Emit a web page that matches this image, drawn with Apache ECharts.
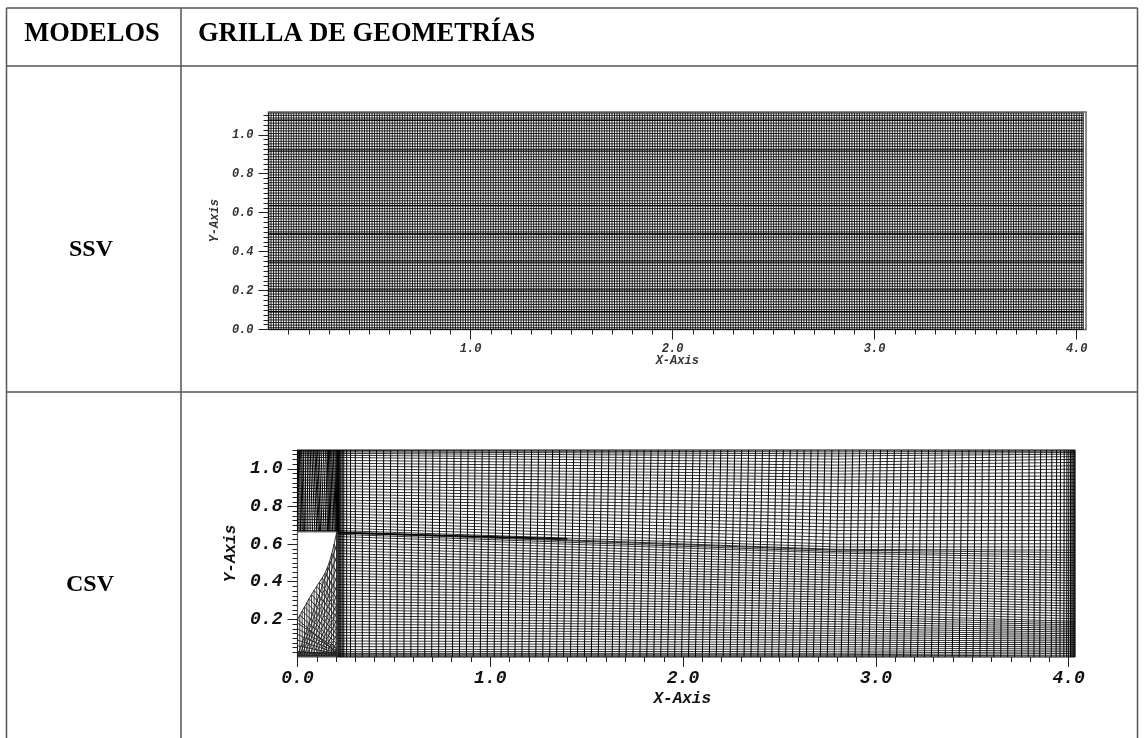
<!DOCTYPE html>
<html><head><meta charset="utf-8">
<style>html,body{margin:0;padding:0;background:#fff}#c{width:1144px;height:738px}</style>
<script src="https://cdn.jsdelivr.net/npm/echarts@6/dist/echarts.min.js"></script>
</head><body><div id="c"></div>
<script>
// Table text
const headers = ['MODELOS', 'GRILLA DE GEOMETRÍAS'];
const models = ['SSV', 'CSV'];
// Tick values
const ssvXMajor = [1, 2, 3, 4];
const ssvXMinor = [.1,.2,.3,.4,.5,.6,.7,.8,.9,1.1,1.2,1.3,1.4,1.5,1.6,1.7,1.8,1.9,2.1,2.2,2.3,2.4,2.5,2.6,2.7,2.8,2.9,3.1,3.2,3.3,3.4,3.5,3.6,3.7,3.8,3.9];
const ssvYMajor = [0, .2, .4, .6, .8, 1];
const yMinorTicks = [.025,.05,.075,.1,.125,.15,.175,.225,.25,.275,.3,.325,.35,.375,.425,.45,.475,.5,.525,.55,.575,.625,.65,.675,.7,.725,.75,.775,.825,.85,.875,.9,.925,.95,.975,1.025,1.05,1.075,1.1];
const csvXMajor = [0, 1, 2, 3, 4];
const csvXMinor = ssvXMinor;
const csvYMajor = [.2, .4, .6, .8, 1];
// SSV mesh stations
const ssvX = [0,.0125,.025,.0375,.05,.0625,.075,.0875,
.1,.1125,.125,.1375,.15,.1625,.175,.1875,.2,.2125,.225,.2375,.25,.2625,.275,.2875,
.3,.3125,.325,.3375,.35,.3625,.375,.3875,.4,.4125,.425,.4375,.45,.4625,.475,.4875,
.5,.5125,.525,.5375,.55,.5625,.575,.5875,.6,.6125,.625,.6375,.65,.6625,.675,.6875,
.7,.7125,.725,.7375,.75,.7625,.775,.7875,.8,.8125,.825,.8375,.85,.8625,.875,.8875,
.9,.9125,.925,.9375,.95,.9625,.975,.9875,1,1.0125,1.025,1.0375,1.05,1.0625,1.075,1.0875,
1.1,1.1125,1.125,1.1375,1.15,1.1625,1.175,1.1875,1.2,1.2125,1.225,1.2375,1.25,1.2625,1.275,1.2875,
1.3,1.3125,1.325,1.3375,1.35,1.3625,1.375,1.3875,1.4,1.4125,1.425,1.4375,1.45,1.4625,1.475,1.4875,
1.5,1.5125,1.525,1.5375,1.55,1.5625,1.575,1.5875,1.6,1.6125,1.625,1.6375,1.65,1.6625,1.675,1.6875,
1.7,1.7125,1.725,1.7375,1.75,1.7625,1.775,1.7875,1.8,1.8125,1.825,1.8375,1.85,1.8625,1.875,1.8875,
1.9,1.9125,1.925,1.9375,1.95,1.9625,1.975,1.9875,2,2.0125,2.025,2.0375,2.05,2.0625,2.075,2.0875,
2.1,2.1125,2.125,2.1375,2.15,2.1625,2.175,2.1875,2.2,2.2125,2.225,2.2375,2.25,2.2625,2.275,2.2875,
2.3,2.3125,2.325,2.3375,2.35,2.3625,2.375,2.3875,2.4,2.4125,2.425,2.4375,2.45,2.4625,2.475,2.4875,
2.5,2.5125,2.525,2.5375,2.55,2.5625,2.575,2.5875,2.6,2.6125,2.625,2.6375,2.65,2.6625,2.675,2.6875,
2.7,2.7125,2.725,2.7375,2.75,2.7625,2.775,2.7875,2.8,2.8125,2.825,2.8375,2.85,2.8625,2.875,2.8875,
2.9,2.9125,2.925,2.9375,2.95,2.9625,2.975,2.9875,3,3.0125,3.025,3.0375,3.05,3.0625,3.075,3.0875,
3.1,3.1125,3.125,3.1375,3.15,3.1625,3.175,3.1875,3.2,3.2125,3.225,3.2375,3.25,3.2625,3.275,3.2875,
3.3,3.3125,3.325,3.3375,3.35,3.3625,3.375,3.3875,3.4,3.4125,3.425,3.4375,3.45,3.4625,3.475,3.4875,
3.5,3.5125,3.525,3.5375,3.55,3.5625,3.575,3.5875,3.6,3.6125,3.625,3.6375,3.65,3.6625,3.675,3.6875,
3.7,3.7125,3.725,3.7375,3.75,3.7625,3.775,3.7875,3.8,3.8125,3.825,3.8375,3.85,3.8625,3.875,3.8875,
3.9,3.9125,3.925,3.9375,3.95,3.9625,3.975,3.9875,4,4.0125,4.025,4.0325];
const ssvY = [0,.0091,.0224,.0357,.049,.0623,.0756,.0889,.1022,.1155,.1288,.1421,.1554,.1687,.182,.1953,.2086,.2219,.2352,.2485,.2618,.2751,.2884,.3017,.315,.3283,.3416,.3549,.3682,.3815,.3948,.4081,.4214,.4347,.448,.4613,.4746,.4879,.5012,.5145,.5278,.5411,.5544,.5677,.581,.5943,.6076,.6209,.6342,.6475,.6608,.6741,.6874,.7007,.714,.7273,.7406,.7539,.7672,.7805,.7938,.8071,.8204,.8337,.847,.8603,.8736,.8869,.9002,.9135,.9268,.9401,.9534,.9667,.98,.9933,1.0066,1.0199,1.0332,1.0465,1.0598,1.0731,1.0864,1.0997,1.1115];
// SSV rows that read as solid black in the picture
const ssvDarkRows = [.0925,.203,.347,.491,.637,.781,.922,1.076];
// CSV mesh: near-vertical lines, x at the bottom (y=0) and at the top (y=1.1)
const csvVBottom = [.205,.21,.215,.22,.225,.232,.24,.255,.275,.3,.336,.372,.408,.444,.48,.516,.552,.588,.624,.66,.696,.732,.768,.804,.84,.876,.912,.948,.984,1.02,1.056,1.092,1.128,1.164,1.2,1.236,1.272,1.308,1.344,1.38,1.416,1.452,1.488,1.524,1.56,1.596,1.632,1.668,1.704,1.74,1.776,1.812,1.848,1.884,1.92,1.956,1.992,2.028,2.064,2.1,2.136,2.172,2.208,2.244,2.28,2.316,2.352,2.388,2.424,2.46,2.496,2.532,2.568,2.604,2.64,2.676,2.712,2.748,2.784,2.82,2.856,2.892,2.928,2.964,3,3.036,3.072,3.108,3.144,3.18,3.216,3.252,3.288,3.324,3.36,3.396,3.432,3.468,3.504,3.54,3.576,3.612,3.648,3.684,3.72,3.756,3.79,3.82,3.85,3.88,3.91,3.935,3.955,3.975,3.99,4,4.01,4.017,4.023,4.028,4.032];
const csvVTop = [.205,.21,.215,.22,.225,.232,.24,.255,.275,.3,.337,.374,.41,.447,.483,.52,.556,.593,.629,.666,.702,.739,.775,.812,.848,.885,.921,.958,.994,1.031,1.068,1.104,1.141,1.177,1.214,1.25,1.287,1.323,1.36,1.396,1.433,1.469,1.506,1.542,1.579,1.615,1.652,1.688,1.725,1.761,1.798,1.834,1.871,1.907,1.944,1.98,2.016,2.052,2.088,2.124,2.16,2.196,2.232,2.268,2.304,2.34,2.376,2.412,2.448,2.484,2.52,2.556,2.592,2.628,2.664,2.7,2.736,2.772,2.808,2.844,2.88,2.916,2.952,2.988,3.024,3.06,3.096,3.132,3.168,3.203,3.238,3.273,3.308,3.343,3.378,3.413,3.448,3.483,3.518,3.553,3.588,3.622,3.656,3.69,3.725,3.76,3.795,3.825,3.855,3.885,3.913,3.938,3.958,3.977,3.991,4.001,4.01,4.017,4.023,4.028,4.032];
// CSV lower block: line heights at x = .21, 2.8 and 4.03
const lowerX = [.21, 2.8, 4.03];
const lowerAtLeft = [0,.006,.012,.019,.028,.04,.055,.07,.085,.1,.115,.13,.145,.16,.175,.19,.205,.22,.235,.25,.265,.28,.295,.31,.325,.34,.355,.37,.385,.4,.415,.43,.445,.46,.475,.49,.505,.52,.535,.55,.565,.58,.595,.61,.625,.64,.652,.66];
const lowerAtMid = [0,.006,.012,.02,.03,.042,.054,.066,.078,.09,.102,.114,.126,.138,.15,.162,.175,.188,.201,.214,.227,.24,.253,.266,.279,.292,.305,.318,.331,.344,.357,.37,.383,.396,.409,.422,.435,.448,.461,.474,.487,.5,.513,.526,.539,.552,.56,.568];
const lowerAtRight = [0,.0095,.019,.0285,.038,.0475,.057,.0665,.076,.0855,.095,.1045,.114,.1235,.133,.1425,.152,.1615,.171,.1805,.19,.2035,.217,.2305,.244,.2575,.271,.2845,.298,.3115,.325,.3385,.352,.3655,.379,.3925,.406,.4195,.433,.4465,.46,.4735,.487,.5005,.514,.5275,.541,.555];
// CSV upper block: line heights at x = 0, .21, 2.8 and 4.03
const upperX = [0, .21, 2.8, 4.03];
const upperAtLeft = [.665,.672,.685,.7,.715,.73,.745,.76,.775,.79,.805,.82,.835,.85,.865,.88,.895,.91,.925,.94,.955,.97,.985,1,1.015,1.03,1.045,1.06,1.072,1.082,1.09,1.096,1.1];
const upperAtMid = [.572,.585,.6,.618,.636,.654,.672,.69,.708,.726,.744,.762,.78,.798,.816,.834,.852,.87,.888,.906,.924,.94,.956,.972,.988,1.004,1.02,1.036,1.052,1.068,1.08,1.09,1.1];
const upperAtRight = [.568,.585,.602,.62,.638,.656,.674,.692,.71,.728,.746,.764,.782,.8,.818,.836,.854,.872,.89,.908,.926,.944,.962,.98,.998,1.016,1.034,1.05,1.065,1.078,1.087,1.094,1.1];
// Interface between the two blocks
const interfaceX = [.21,.5,.8,1.1,1.4];
const interfaceY = [.66,.652,.644,.636,.628];
// CSV inlet block, near-vertical lines at y=.668 and y=1.1
const inletBottom = [0,.008,.016,.024,.03,.036,.044,.054,.066,.078,.09,.1,.108,.114,.12,.128,.138,.148,.156,.162,.168,.174,.182,.19,.196,.2,.204,.208,.212,.216];
const inletTop = [0,.004,.01,.016,.022,.03,.04,.05,.058,.066,.074,.082,.09,.096,.104,.112,.122,.134,.146,.154,.16,.166,.172,.178,.186,.194,.2,.206,.21,.215];
// CSV wedge mesh
const wedgeX = [0,.012,.024,.036,.048,.06,.073,.086,.1,.114,.128,.142,.155,.167,.178,.19,.203];
const wedgeY = [.2,.222,.244,.266,.288,.31,.332,.354,.376,.398,.42,.445,.475,.51,.55,.6,.66];
const wedgeRowEnd = [.02,.045,.07,.095,.12,.15,.18,.21,.24,.27,.31,.35,.4,.45,.5,.56,.66];
const wedgeFootX = [0,.012,.025,.037,.05,.062,.075,.087,.1,.112,.125,.137,.15,.162,.175,.187,.2];
const fanFootX = [0,.01,.02,.032,.045,.06,.075,.09,.105,.12,.14,.16,.18];
const fanEndY = [.6,.54,.48,.43,.38,.33,.28,.24,.2,.16,.12,.08,.05];
const wedgeFloorY = [.004,.008,.012,.018,.024];
const wedgeEdgeRowY = [.03,.06,.09,.12,.15,.18];
const wedgeEdgeRowEnd = [.012,.016,.02,.026,.034,.042];

const BREAK = ['-', '-'];
function polylines(lines) {
  const out = [];
  lines.forEach(l => { l.forEach(p => out.push(p)); out.push(BREAK); });
  return out;
}
const ssvLines = polylines([
  ...ssvX.map(x => [[x, 0], [x, 1.1115]]),
  ...ssvY.map(y => [[0, y], [4.0325, y]])
]);
const ssvDark = polylines(ssvDarkRows.map(y => [[0, y], [4.0325, y]]));
const csvColumns = polylines([
  ...csvVBottom.map((x, i) => [[x, 0], [csvVTop[i], 1.1]]),
  ...inletBottom.map((x, i) => [[x, .668], [inletTop[i], 1.1]])
]);
const csvRows = polylines([
  ...lowerAtLeft.map((y, i) => [[lowerX[0], y], [lowerX[1], lowerAtMid[i]], [lowerX[2], lowerAtRight[i]]]),
  ...upperAtLeft.map((y, i) => [[upperX[0], y], [upperX[1], y], [upperX[2], upperAtMid[i]], [upperX[3], upperAtRight[i]]])
]);
const csvWedge = polylines([
  wedgeX.map((x, i) => [x, wedgeY[i]]),
  [[0, 0], [0, .2]],
  ...wedgeX.map((x, i) => [[wedgeFootX[i], .004], [x, wedgeY[i]]]),
  ...wedgeX.map((x, i) => [[x, wedgeY[i]], [.205, wedgeRowEnd[i]]]),
  ...fanFootX.map((x, i) => [[x, .004], [.205, fanEndY[i]]]),
  ...wedgeFloorY.map(y => [[0, y], [.205, y]]),
  ...wedgeEdgeRowY.map((y, i) => [[0, y], [.205, wedgeEdgeRowEnd[i]]])
]);
const csvInterface = polylines([interfaceX.map((x, i) => [x, interfaceY[i]])]);

const MONO = '"Liberation Mono"';
function axisPair(kind, gridIndex, major, minor, max, cfg) {
  const position = kind === 'x' ? 'bottom' : 'left';
  const base = { type: 'value', gridIndex, position, min: 0, max, splitLine: { show: false }, axisLine: { show: false } };
  return [
    Object.assign({}, base, {
      name: cfg.name, nameLocation: 'middle', nameGap: cfg.nameGap,
      nameTextStyle: { fontFamily: MONO, fontWeight: 'bold', fontStyle: 'italic', fontSize: cfg.nameSize, color: cfg.color, padding: cfg.namePad || 0 },
      axisTick: { show: true, inside: false, length: cfg.major, customValues: major, lineStyle: { color: '#222', width: 1 } },
      axisLabel: { show: true, customValues: major, margin: cfg.margin, hideOverlap: false,
        fontFamily: MONO, fontWeight: 'bold', fontStyle: 'italic', fontSize: cfg.size, color: cfg.color,
        formatter: v => v.toFixed(1) }
    }),
    Object.assign({}, base, {
      axisTick: { show: true, inside: false, length: cfg.minor, customValues: minor, lineStyle: { color: '#222', width: 1 } },
      axisLabel: { show: false }
    })
  ];
}
const ssvStyle = { size: 12, nameSize: 12, color: '#333', major: 10, minor: 5 };
const csvStyle = { size: 18, nameSize: 16, color: '#111', major: 10, minor: 5 };

function mesh(idx, data, width, color) {
  return { type: 'line', xAxisIndex: idx, yAxisIndex: idx, data, showSymbol: false, symbol: 'none',
    connectNulls: false, silent: true, animation: false, progressive: 0, clip: true,
    lineStyle: { color: color || '#000', width } };
}
const ln = (x1, y1, x2, y2) => ({ type: 'line', shape: { x1, y1, x2, y2 }, style: { stroke: '#555', lineWidth: 1.5 }, silent: true });
const txt = (t, x, y, align, size) => ({ type: 'text', x, y, silent: true,
  style: { text: t, fill: '#000', font: 'bold ' + size + 'px "Liberation Serif"', align, verticalAlign: 'middle' } });

const chart = echarts.init(document.getElementById('c'), null, { renderer: 'canvas' });
chart.setOption({
  animation: false,
  backgroundColor: '#fff',
  grid: [
    { left: 268.5, top: 112, width: 817.5, height: 217.5, show: true, borderColor: '#666', borderWidth: 1.5, backgroundColor: 'transparent', containLabel: false },
    { left: 297.5, top: 450, width: 777.5, height: 207, show: true, borderColor: '#555', borderWidth: 1.2, backgroundColor: 'transparent', containLabel: false }
  ],
  xAxis: [
    ...axisPair('x', 0, ssvXMajor, ssvXMinor, 4.046, Object.assign({ name: 'X-Axis', nameGap: 25, margin: 13 }, ssvStyle)),
    ...axisPair('x', 1, csvXMajor, csvXMinor, 4.033, Object.assign({ name: 'X-Axis', nameGap: 34, margin: 12, namePad: [0, 8, 0, 0] }, csvStyle))
  ],
  yAxis: [
    ...axisPair('y', 0, ssvYMajor, yMinorTicks, 1.117, Object.assign({ name: 'Y-Axis', nameGap: 34, margin: 15 }, ssvStyle)),
    ...axisPair('y', 1, csvYMajor, yMinorTicks, 1.1, Object.assign({ name: 'Y-Axis', nameGap: 59, margin: 15 }, csvStyle))
  ],
  series: [
    mesh(0, ssvLines, .85),
    mesh(0, ssvDark, 1.1),
    mesh(2, csvColumns, 1),
    mesh(2, csvRows, .8),
    mesh(2, csvWedge, .9, '#222'),
    mesh(2, csvInterface, 1.5)
  ],
  graphic: [
    ln(6.5, 8, 1137.5, 8), ln(6.5, 66, 1137.5, 66), ln(6.5, 392, 1137.5, 392),
    ln(6.5, 8, 6.5, 738), ln(181, 8, 181, 738), ln(1137.5, 8, 1137.5, 738),
    txt(headers[0], 92, 34, 'center', 26.5), txt(headers[1], 198, 34, 'left', 26.5),
    txt(models[0], 91, 250, 'center', 24), txt(models[1], 90, 585, 'center', 24)
  ]
});
</script></body></html>
